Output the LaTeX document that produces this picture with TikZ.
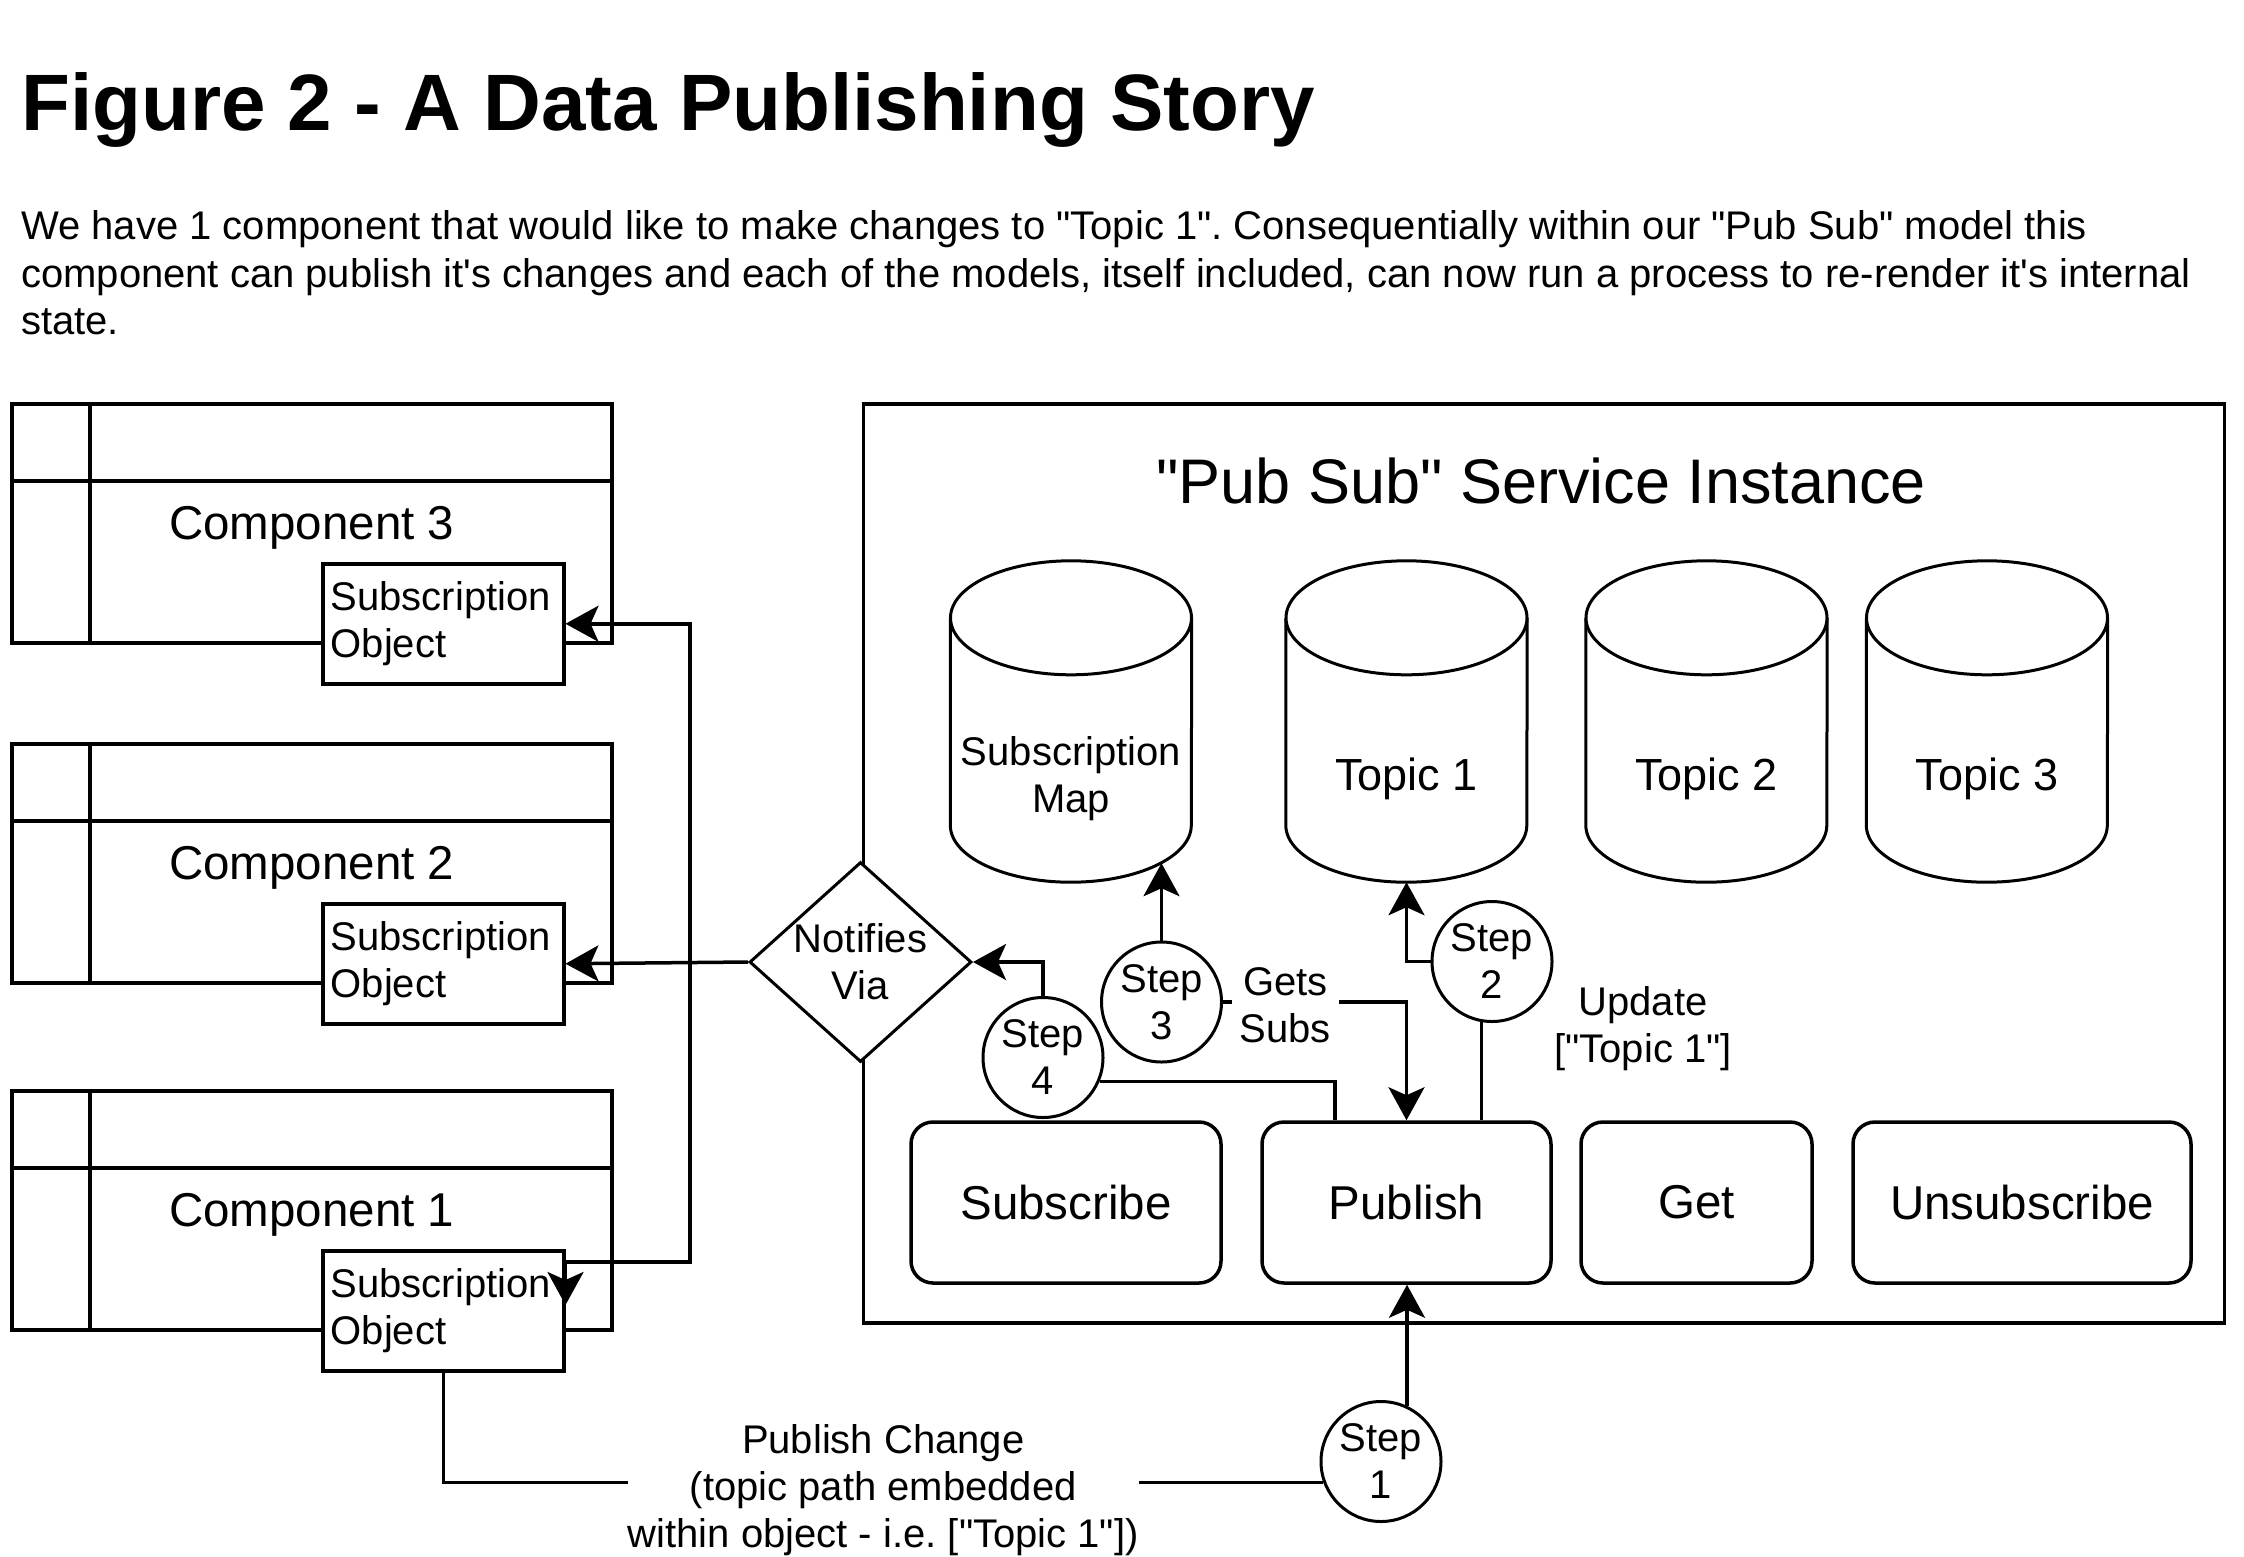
\documentclass[tikz,border=0pt]{standalone}
\usepackage{fontspec}
\setmainfont[Ligatures=TeXOff]{Liberation Sans}
\frenchspacing
\usetikzlibrary{arrows.meta,calc,shapes.geometric}

\begin{document}
\begin{tikzpicture}[x=1pt, y=-1pt, >={Stealth[length=33pt, width=36pt, inset=8pt]},
		big/.style={font=\fontsize{47.5}{55}\selectfont},
		small/.style={font=\fontsize{40}{47}\selectfont},
		box/.style={draw, line width=3.5pt, inner sep=0pt},
		conn/.style={line width=3.5pt},
		cyl/.style={line width=3pt, fill=white},
		subobj/.style={box, fill=white, small, minimum width=241pt, minimum height=120pt, text width=225pt, inner xsep=8pt, align=left},
		btn/.style={box, rounded corners=22pt, minimum height=161pt, big},
		stepc/.style={draw, circle, line width=3pt, fill=white, minimum size=120pt, inner sep=0pt, small, align=center},
		lbl/.style={fill=white, small, align=center, inner ysep=2pt}]
	\useasboundingbox (0,0) rectangle (2244,1556);
	\def\rx{120.5}\def\ry{57}
	% heading
	\node[anchor=base west, inner sep=0pt, font=\fontsize{80}{90}\selectfont\bfseries] (title) at (21,130) {Figure 2 - A Data Publishing Story};
	\node[anchor=north west, inner sep=0pt, align=left, font=\fontsize{40}{47.5}\selectfont] (intro) at (21,210.8) {We have 1 component that would like to make changes to "Topic 1". Consequentially within our "Pub Sub" model this\\component can publish it's changes and each of the models, itself included, can now run a process to re-render it's internal\\state.};
	% components
	\foreach \i/\yy in {3/402, 2/742, 1/1089} {
		\node[box, minimum width=600pt, minimum height=239pt, anchor=north west] (comp\i) at (10,\yy) {};
		\draw[line width=3.5pt] ([yshift=-79pt]comp\i.north west) -- ([yshift=-79pt]comp\i.north east);
		\draw[line width=3.5pt] ([xshift=80pt]comp\i.north west) -- ([xshift=80pt]comp\i.south west);
		\node[big, anchor=base] at ([yshift=-137pt]comp\i.north) {Component \i};
		\node[subobj, anchor=north west] (sub\i) at ([xshift=311pt, yshift=-160pt]comp\i.north west) {Subscription\\Object};
	}
	% service
	\node[box, minimum width=1361pt, minimum height=919pt, anchor=north west] (svc) at (861.5,402) {};
	\node[anchor=base, font=\fontsize{63}{70}\selectfont] (svctitle) at (1541,503) {"Pub Sub" Service Instance};
	\foreach \cname/\cx/\cs/\clab in {smap/1071/40/{Subscription\\Map}, topic1/1406.5/45/{Topic 1}, topic2/1706.5/45/{Topic 2}, topic3/1987/45/{Topic 3}} {
		\node[minimum width=241pt, minimum height=321pt, inner sep=0pt] (\cname) at (\cx,721.5) {};
		\draw[cyl] ([yshift=-\ry pt]\cname.north west) -- ([yshift=\ry pt]\cname.south west) arc[start angle=180, end angle=360, x radius=\rx pt, y radius=\ry pt] -- ([yshift=-\ry pt]\cname.north east);
		\draw[cyl] ([yshift=-\ry pt]\cname.north) ellipse[x radius=\rx pt, y radius=\ry pt];
		\node[align=center, text depth=0pt, font=\fontsize{\cs}{47}\selectfont] at ([yshift=-52.5pt]\cname.center) {\clab};
	}
	\node[btn, minimum width=310pt] (subscribe) at (1066,1202.5) {Subscribe};
	\node[btn, minimum width=289pt] (publish) at (1406.5,1202.5) {Publish};
	\node[btn, minimum width=231pt] (get) at (1696.5,1202.5) {Get};
	\node[btn, minimum width=338pt] (unsub) at (2022,1202.5) {Unsubscribe};
	\node[draw, diamond, aspect=1.11, minimum width=222pt, minimum height=200pt, inner sep=0pt, line width=3pt, fill=white, small, align=center] (notify) at (860.5,962) {Notifies\\Via};
	% steps
	\node[stepc] (step1) at (1381,1461.5) {Step\\1};
	\node[stepc] (step2) at (1492,961.5) {Step\\2};
	\node[stepc] (step3) at (1161.5,1002) {Step\\3};
	\node[stepc] (step4) at (1043,1057.5) {Step\\4};
	\node[small, align=center] (upd) at (1643,1029) {Update\\{}["Topic 1"]};
	% step 1: publish change
	\draw[conn] (sub1.south) |- node[pos=0.75, lbl, inner xsep=0pt, yshift=-8pt] {Publish Change\\(topic path embedded\\within object - i.e. ["Topic 1"])} (step1.200);
	\draw[conn, ->] (step1.65) -- (step1.65 |- publish.south);
	% step 2: update topic
	\draw[conn] (step2.260) -- (step2.260 |- publish.north);
	\draw[conn, ->] (step2.west) -| (topic1.south);
	% step 3: get subscriptions
	\coordinate (mapin) at ($(smap.south)+(90.5,-19)$);
	\draw[conn, ->] (step3.north) -- (mapin);
	\draw[conn, ->] (step3.east) -| node[pos=0.17, lbl, inner xsep=8pt, yshift=-3pt] {Gets\\Subs} (publish.north);
	% step 4: notify
	\draw[conn] ([xshift=-71.5pt]publish.north) |- (step4.337);
	\draw[conn, ->] (step4.north) |- (notify.east);
	\coordinate (bus) at (690,962);
	\draw[conn, ->] (notify.west) -- (sub2.east);
	\draw[conn, ->] (bus) |- (sub3.east);
	\draw[conn, ->] (bus) |- ([yshift=-13pt]sub1.north east) -- ([yshift=-56pt]sub1.north east);
\end{tikzpicture}
\end{document}
